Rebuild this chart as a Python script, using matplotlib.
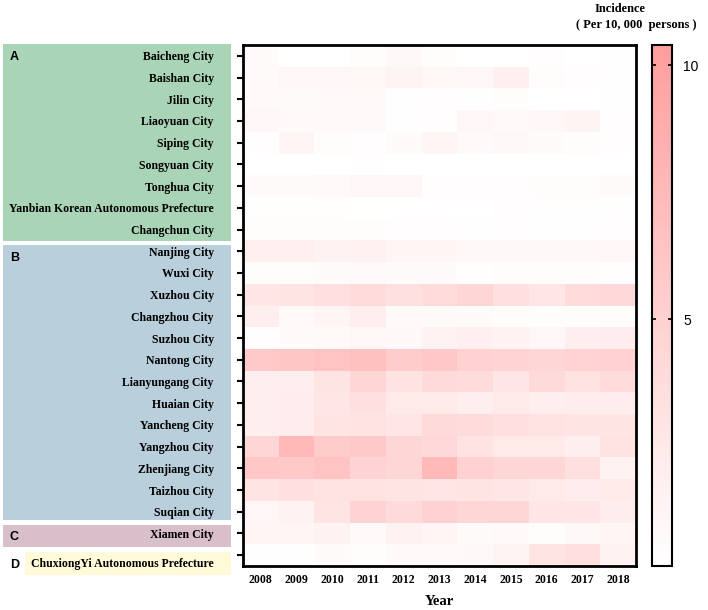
import numpy as np
import matplotlib
matplotlib.use("Agg")
import matplotlib.pyplot as plt
from matplotlib.colors import LinearSegmentedColormap
from matplotlib.patches import Rectangle
from matplotlib.transforms import ScaledTranslation

# ==========================================================
#  data
# ==========================================================
years = [str(y) for y in range(2008, 2019)]

cities = [
    "Baicheng City", "Baishan City", "Jilin City", "Liaoyuan City", "Siping City",
    "Songyuan City", "Tonghua City", "Yanbian Korean Autonomous Prefecture", "Changchun City",
    "Nanjing City", "Wuxi City", "Xuzhou City", "Changzhou City", "Suzhou City",
    "Nantong City", "Lianyungang City", "Huaian City", "Yancheng City", "Yangzhou City",
    "Zhenjiang City", "Taizhou City", "Suqian City",
    "Xiamen City",
    "ChuxiongYi Autonomous Prefecture",
]

group_names = ["A", "B", "C", "D"]
group_colors = ["#a9d5b6", "#b9cfdc", "#d8bfc9", "#fffbd9"]

incidence = [
    [0.6, 0.2, 0.1, 0.5, 0.9, 0.5, 0.1, 0.1, 0.4, 0.2, 0.3],
    [0.6, 1.0, 1.0, 1.1, 1.3, 1.1, 1.0, 1.8, 0.5, 0.4, 0.3],
    [0.8, 0.6, 0.8, 0.8, 0.3, 0.4, 0.3, 0.5, 0.2, 0.1, 0.3],
    [1.0, 0.7, 0.8, 0.8, 0.3, 0.4, 1.0, 0.8, 1.0, 1.3, 0.4],
    [0.4, 1.2, 0.5, 0.4, 0.6, 1.2, 0.7, 0.9, 0.6, 0.5, 0.4],
    [0.05, 0.1, 0.2, 0.3, 0.1, 0.1, 0.2, 0.2, 0.2, 0.2, 0.2],
    [0.6, 0.6, 0.8, 1.0, 1.0, 0.4, 0.4, 0.4, 0.5, 0.5, 0.6],
    [0.3, 0.3, 0.4, 0.2, 0.05, 0.2, 0.2, 0.3, 0.3, 0.3, 0.3],
    [0.5, 0.5, 0.5, 0.5, 0.4, 0.4, 0.3, 0.4, 0.3, 0.3, 0.4],
    [1.8, 1.8, 1.5, 1.7, 1.2, 1.2, 0.9, 0.9, 0.9, 0.9, 1.0],
    [0.5, 0.5, 0.6, 0.7, 0.6, 0.6, 0.4, 0.5, 0.5, 0.5, 0.4],
    [2.8, 3.0, 3.5, 3.8, 3.4, 3.8, 4.5, 3.5, 2.8, 3.8, 4.2],
    [2.0, 0.8, 1.2, 2.0, 0.7, 0.7, 0.6, 0.5, 0.5, 0.5, 0.5],
    [0.4, 0.6, 0.8, 1.0, 0.9, 1.5, 1.8, 1.5, 1.0, 2.0, 2.2],
    [5.8, 6.2, 6.5, 6.8, 5.5, 6.0, 5.0, 4.8, 4.5, 4.8, 5.0],
    [2.0, 2.0, 3.0, 4.5, 3.2, 4.0, 3.8, 2.8, 4.0, 3.2, 3.8],
    [2.0, 2.2, 2.8, 3.5, 2.5, 2.5, 2.0, 2.5, 2.0, 2.2, 2.2],
    [2.0, 2.2, 3.0, 3.2, 2.8, 4.0, 3.8, 3.5, 3.2, 3.0, 3.0],
    [4.5, 7.5, 5.5, 5.8, 4.5, 4.2, 3.2, 2.5, 2.5, 2.0, 3.2],
    [6.0, 5.8, 6.5, 4.8, 4.5, 7.5, 5.0, 4.5, 4.5, 3.5, 1.5],
    [3.0, 3.5, 3.2, 3.2, 3.0, 2.8, 3.0, 2.8, 2.5, 2.2, 2.5],
    [1.0, 1.5, 3.0, 4.8, 4.0, 5.0, 4.5, 4.5, 2.8, 2.8, 2.2],
    [1.2, 1.2, 1.5, 0.8, 1.5, 1.2, 0.6, 0.7, 0.5, 0.9, 1.2],
    [0.3, 0.3, 0.6, 0.5, 0.7, 0.7, 0.9, 1.3, 3.0, 3.5, 1.5],
]

VMIN, VMAX = 0.14, 10.4
cbar_ticks = [5, 10]

SERIF = "Liberation Serif"
SANS = "Liberation Sans"

# ==========================================================
#  figure (pixel helpers)
# ==========================================================
W, H = 708, 610
fig = plt.figure(figsize=(W / 100, H / 100), dpi=100)

def fx(px):
    return px / W

def fy(py):
    return 1 - py / H

ax_l, ax_r, ax_t, ax_b = 243, 636, 45, 566
ax = fig.add_axes([fx(ax_l), fy(ax_b), fx(ax_r - ax_l), fy(ax_t) - fy(ax_b)])

cmap = LinearSegmentedColormap.from_list("inc", ["#ffffff", "#ff9e9e"])
data = np.array(incidence)
mesh = ax.pcolormesh(data, cmap=cmap, vmin=VMIN, vmax=VMAX)
ax.set_xlim(0, len(years))
ax.set_ylim(len(cities), 0)

ax.set_xticks(np.arange(len(years)) + 0.5)
ax.set_xticklabels(years, fontfamily=SERIF, fontweight="bold", fontsize=8.5)
ax.set_yticks(np.arange(len(cities)) + 0.5)
ax.set_yticklabels(cities, fontfamily=SERIF, fontweight="bold", fontsize=8.5)
ax.tick_params(axis="y", direction="out", length=4, width=1.5, pad=17)
ax.tick_params(axis="x", length=0, pad=6)
ax.set_xlabel("Year", fontfamily=SERIF, fontweight="bold", fontsize=10.5, labelpad=6)
for sp in ax.spines.values():
    sp.set_linewidth(2)

# last label sits a little below its tick in the original
last = ax.get_yticklabels()[-1]
last.set_transform(last.get_transform() + ScaledTranslation(0, -7 / 100, fig.dpi_scale_trans))

# group boxes on the left (pixel extents: top, bottom)
group_boxes = [(44, 241), (245, 520), (525, 547), (552, 575)]
box_l, box_r = 3, 231
for name, col, (top, bot) in zip(group_names, group_colors, group_boxes):
    rect = Rectangle((fx(box_l), fy(bot)), fx(box_r - box_l), fy(top) - fy(bot),
                     transform=fig.transFigure, facecolor=col, edgecolor="none", zorder=-1)
    fig.patches.append(rect)
    if name == "D":
        wb = Rectangle((fx(box_l), fy(bot)), fx(22), fy(top) - fy(bot),
                       transform=fig.transFigure, facecolor="white", edgecolor="none", zorder=-1)
        fig.patches.append(wb)
    if name in ("C", "D"):
        ty = (top + bot) / 2 + 1
    else:
        ty = top + 13
    fig.text(fx(10), fy(ty), name, fontfamily=SANS, fontweight="bold",
             fontsize=9, va="center", ha="left")

# colorbar
cax = fig.add_axes([fx(652), fy(ax_b), fx(20), fy(ax_t) - fy(ax_b)])
cb = fig.colorbar(mesh, cax=cax, ticks=cbar_ticks)
cb.outline.set_linewidth(1.5)
cax.tick_params(direction="in", left=True, right=True, length=3, width=1.2,
                labelsize=10, pad=8)
for lab in cax.get_yticklabels():
    lab.set_fontfamily(SANS)

fig.text(fx(620), fy(9), "Incidence", fontfamily=SERIF, fontweight="bold",
         fontsize=9, ha="center", va="center")
fig.text(fx(636), fy(25), "( Per 10, 000  persons )", fontfamily=SERIF, fontweight="bold",
         fontsize=9, ha="center", va="center")

fig.savefig("out.png", dpi=100)
